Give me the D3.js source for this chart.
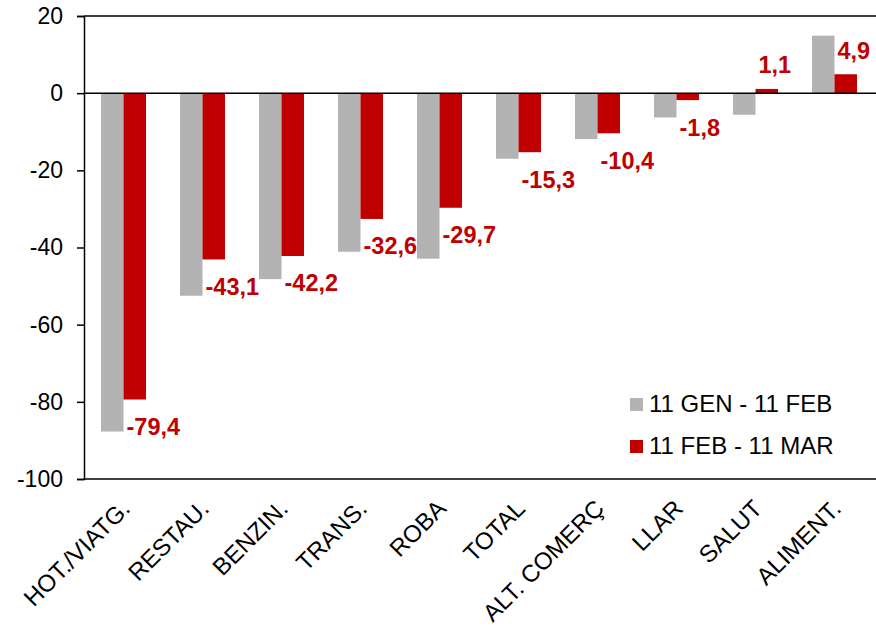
<!DOCTYPE html>
<html>
<head>
<meta charset="utf-8">
<script src="https://cdn.jsdelivr.net/npm/d3@7"></script>
<style>
  body { margin: 0; background: #fff; }
  text { font-family: "Liberation Sans", Arial, sans-serif; }
</style>
</head>
<body>
<div id="chart"></div>
<script>
// categories and values
var categories = ["HOT./VIATG.", "RESTAU.", "BENZIN.", "TRANS.", "ROBA", "TOTAL", "ALT. COMERÇ", "LLAR", "SALUT", "ALIMENT."];
var janFeb = [-87.7, -52.5, -48.2, -41.1, -42.9, -17.0, -11.9, -6.3, -5.6, 14.9];
var febMar = [-79.4, -43.1, -42.2, -32.6, -29.7, -15.3, -10.4, -1.8, 1.1, 4.9];
var seriesNames = ["11 GEN - 11 FEB", "11 FEB - 11 MAR"];
var seriesColors = ["#b3b3b3", "#c00000"];
var yTicks = [-100, -80, -60, -40, -20, 0, 20];

var W = 876, H = 631;
var plotLeft = 84, plotRight = 874, plotTop = 16, plotBottom = 479;

var svg = d3.select("#chart")
  .append("svg")
    .attr("width", W)
    .attr("height", H);

var x = d3.scaleBand()
  .domain(categories)
  .range([plotLeft, plotRight])
  .paddingInner(0.43)
  .paddingOuter(0.215);

var xSub = d3.scaleBand()
  .domain([0, 1])
  .range([0, x.bandwidth()]);

var y = d3.scaleLinear()
  .domain([-100, 20])
  .range([plotBottom, plotTop]);

// rows for the bars
var data = [];
for (var i = 0; i < categories.length; i++) {
  data.push({cat: categories[i], s: 0, v: janFeb[i]});
  data.push({cat: categories[i], s: 1, v: febMar[i]});
}

// bars
svg.append("g")
  .selectAll("rect")
  .data(data)
  .enter().append("rect")
    .attr("x", function(d) { return x(d.cat) + xSub(d.s); })
    .attr("width", xSub.bandwidth())
    .attr("y", function(d) { return y(Math.max(0, d.v)); })
    .attr("height", function(d) { return Math.abs(y(d.v) - y(0)); })
    .attr("fill", function(d) { return seriesColors[d.s]; });

// horizontal lines: top, zero, bottom
[20, 0, -100].forEach(function(v) {
  svg.append("line")
    .attr("x1", plotLeft).attr("x2", W)
    .attr("y1", y(v)).attr("y2", y(v))
    .attr("stroke", "#000")
    .attr("stroke-width", 1.5);
});

// y axis (plain hyphen for negatives, like the original)
var yAxis = svg.append("g")
  .attr("transform", "translate(" + plotLeft + ",0)")
  .call(d3.axisLeft(y).tickValues(yTicks).tickSize(7).tickPadding(14)
    .tickFormat(function(d) { return String(d); }));
yAxis.select(".domain").attr("stroke", "#000").attr("stroke-width", 1.5);
yAxis.selectAll(".tick line").attr("stroke", "#000").attr("stroke-width", 1.5);
yAxis.selectAll(".tick text")
  .attr("fill", "#000")
  .style("font-size", "23px")
  .style("font-family", "Liberation Sans, Arial, sans-serif");

// category labels, rotated
svg.append("g")
  .selectAll("text")
  .data(categories)
  .enter().append("text")
    .attr("transform", function(d) {
      return "translate(" + (x(d) + x.bandwidth() / 2 - 4) + "," + (plotBottom + 19) + ") rotate(-45)";
    })
    .attr("text-anchor", "end")
    .attr("dy", "0.71em")
    .style("font-size", "24px")
    .attr("fill", "#000")
    .text(function(d) { return d; });

// value labels for the second series
svg.append("g")
  .selectAll("text")
  .data(data.filter(function(d) { return d.s == 1; }))
  .enter().append("text")
    .attr("x", function(d) { return x(d.cat) + xSub(1) + 3; })
    .attr("y", function(d) { return d.v < 0 ? y(d.v) + 27 : y(d.v) - 24; })
    .attr("dy", "0.36em")
    .style("font-size", "23.5px")
    .style("font-weight", "bold")
    .attr("fill", "#c00000")
    .text(function(d) { return String(d.v).replace(".", ","); });

// legend
var legend = svg.append("g")
  .selectAll("g")
  .data(seriesNames)
  .enter().append("g")
    .attr("transform", function(d, i) { return "translate(630," + (398 + i * 42) + ")"; });
legend.append("rect")
  .attr("width", 13).attr("height", 13)
  .attr("fill", function(d, i) { return seriesColors[i]; });
legend.append("text")
  .attr("x", 19).attr("y", 14)
  .style("font-size", "24px")
  .attr("fill", "#000")
  .text(function(d) { return d; });
</script>
</body>
</html>
